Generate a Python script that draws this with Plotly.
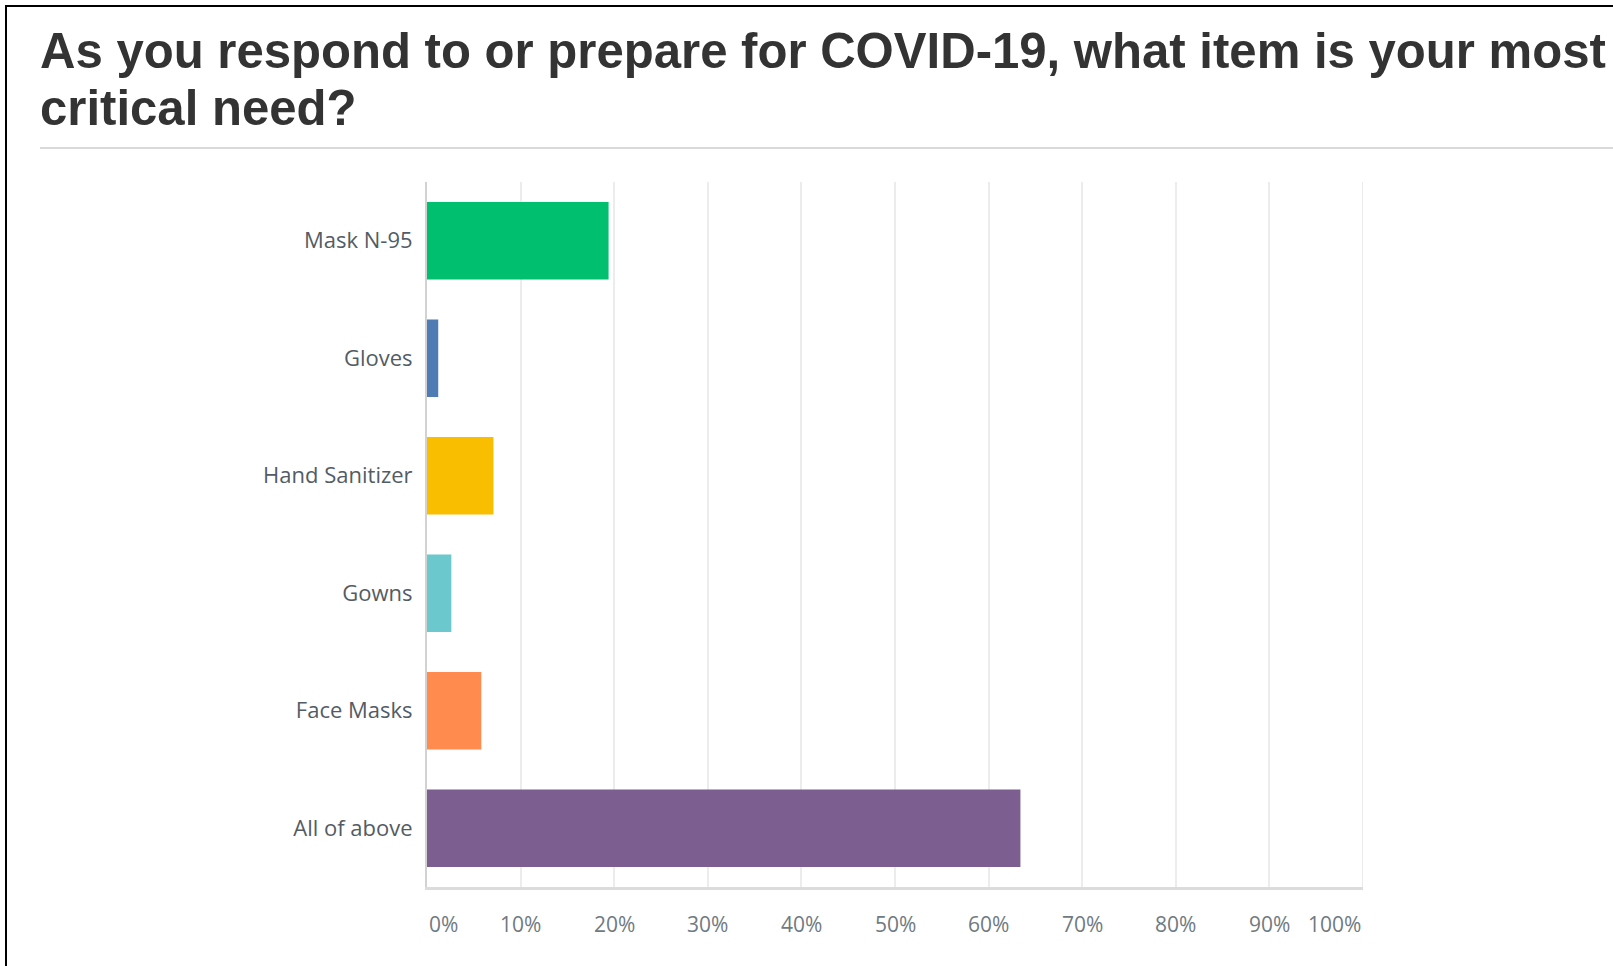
import plotly.graph_objects as go

# ---- data ----
categories = ["Mask N-95", "Gloves", "Hand Sanitizer", "Gowns", "Face Masks", "All of above"]
percent_values = [19.4, 1.2, 7.1, 2.6, 5.8, 63.4]
bar_colors = ["#00BF6F", "#507CB6", "#F9BE00", "#6BC8CD", "#FF8B4F", "#7D5E90"]
tick_values = [0, 10, 20, 30, 40, 50, 60, 70, 80, 90, 100]
tick_labels = ["0%", "10%", "20%", "30%", "40%", "50%", "60%", "70%", "80%", "90%", "100%"]
title_lines = ["As you respond to or prepare for COVID-19, what item is your most",
               "critical need?"]

# ---- layout geometry (pixels) ----
W, H = 1613, 966
L, R, T, B = 427, 1363, 182, 887
pw, ph = R - L, B - T


def px_x(x):
    return (x - L) / pw


def px_y(y):
    return (B - y) / ph


fig = go.Figure()
fig.add_trace(go.Bar(
    x=percent_values,
    y=categories,
    orientation="h",
    marker=dict(color=bar_colors, line=dict(width=0)),
    hoverinfo="skip",
))

annotations = []
# title (two lines)
for line, yb in zip(title_lines, [51, 108]):
    annotations.append(dict(
        text=line, xref="paper", yref="paper", x=px_x(38), y=px_y(yb),
        xanchor="left", yanchor="middle", showarrow=False,
        font=dict(family="Liberation Sans, Arial, sans-serif", size=49.1,
                  color="#333333", weight="bold"),
    ))
# x tick labels
for v, t in zip(tick_values, tick_labels):
    anchor = "left" if v == tick_values[0] else ("right" if v == tick_values[-1] else "center")
    annotations.append(dict(
        text=t, xref="x", yref="paper", x=v, y=px_y(924),
        xanchor=anchor, yanchor="middle", showarrow=False,
        font=dict(family="Open Sans, sans-serif", size=21, color="#6f7a82"),
    ))

shapes = [
    # outer black frame (left + top visible)
    dict(type="rect", xref="paper", yref="paper",
         x0=px_x(6), x1=px_x(1700), y0=px_y(1100), y1=px_y(6),
         line=dict(color="#000000", width=2), fillcolor="rgba(0,0,0,0)", layer="above"),
    # rule under title
    dict(type="line", xref="paper", yref="paper",
         x0=px_x(40), x1=px_x(1700), y0=px_y(148), y1=px_y(148),
         line=dict(color="#d9d9d9", width=2)),
    # right edge of plot
    dict(type="line", xref="x", yref="paper", x0=100, x1=100, y0=0, y1=1,
         line=dict(color="#ebebeb", width=2), layer="below"),
]

fig.update_layout(
    width=W, height=H,
    margin=dict(l=L, r=W - R, t=T, b=H - B, pad=0),
    paper_bgcolor="white", plot_bgcolor="white",
    showlegend=False,
    bargap=0.34,
    annotations=annotations,
    shapes=shapes,
    xaxis=dict(
        range=[0, 100], tickvals=tick_values, showticklabels=False,
        showgrid=True, gridcolor="#ececec", gridwidth=1.5,
        zeroline=False, showline=True, linecolor="#dcdcdc", linewidth=3,
        fixedrange=True,
    ),
    yaxis=dict(
        autorange="reversed", showgrid=False, zeroline=False,
        showline=True, linecolor="#d2d2d2", linewidth=2,
        ticks="", ticklabelstandoff=8,
        tickfont=dict(family="Open Sans, sans-serif", size=22, color="#535c64"),
        fixedrange=True,
    ),
)

fig.write_html("out.html", config={"displayModeBar": False})
